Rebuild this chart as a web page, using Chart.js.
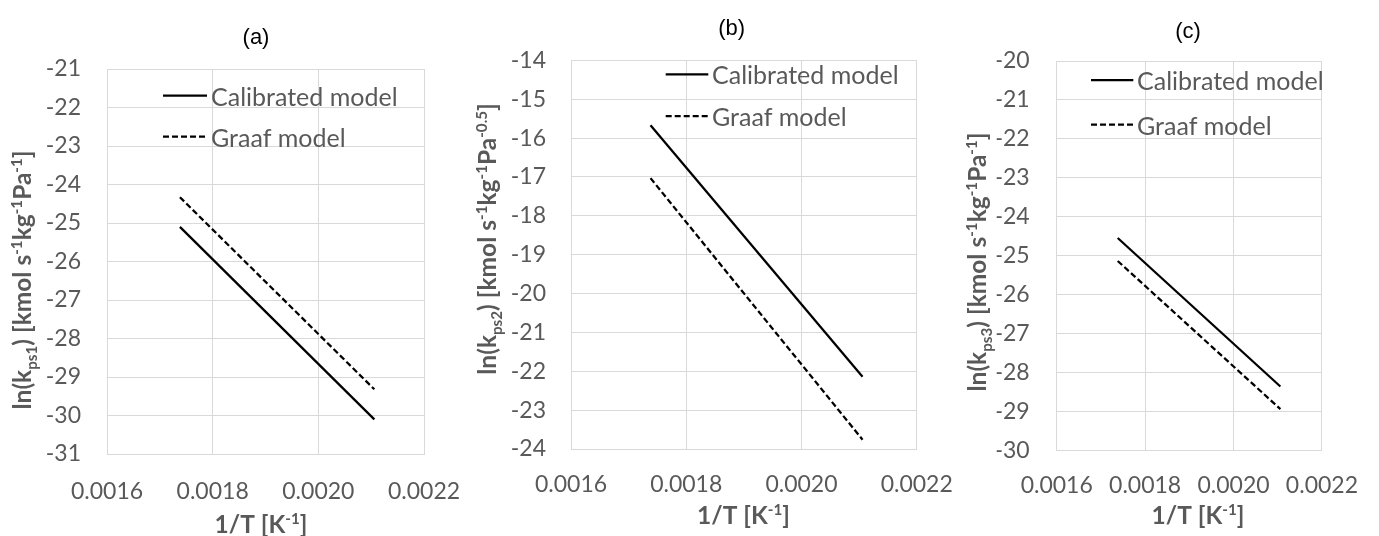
<!DOCTYPE html>
<html><head><meta charset="utf-8">
<script src="https://cdn.jsdelivr.net/npm/chart.js@4.4.1/dist/chart.umd.min.js"></script>
<style>
html,body{margin:0;padding:0;background:#fff;width:1379px;height:536px;overflow:hidden;}
canvas{position:absolute;left:0;top:0;}
</style></head><body>
<canvas id="ca" width="1379" height="536"></canvas>
<canvas id="cb" width="1379" height="536"></canvas>
<canvas id="cc" width="1379" height="536"></canvas>
<script>
// ---------- data ----------
const invT = [0.001738, 0.002106];
const seriesNames = ['Calibrated model', 'Graaf model'];
const calibratedA = [-25.10, -30.10];
const graafA = [-24.33, -29.32];
const calibratedB = [-15.67, -22.14];
const graafB = [-17.03, -23.76];
const calibratedC = [-24.54, -28.35];
const graafC = [-25.13, -28.93];
const xTickValues = [0.0016, 0.0018, 0.0020, 0.0022];
const yRangeA = [-31, -21];
const yRangeB = [-24, -14];
const yRangeC = [-30, -20];
const panelTitles = ['(a)', '(b)', '(c)'];
const xTitleSegs = [{t:'1/T [K'},{t:'-1',sup:true},{t:']'}];
const yTitleA = [{t:'ln(k'},{t:'ps1',sub:true},{t:') [kmol s'},{t:'-1',sup:true},{t:'kg'},{t:'-1',sup:true},{t:'Pa'},{t:'-1',sup:true},{t:']'}];
const yTitleB = [{t:'ln(k'},{t:'ps2',sub:true},{t:') [kmol s'},{t:'-1',sup:true},{t:'kg'},{t:'-1',sup:true},{t:'Pa'},{t:'-0.5',sup:true},{t:']'}];
const yTitleC = [{t:'ln(k'},{t:'ps3',sub:true},{t:') [kmol s'},{t:'-1',sup:true},{t:'kg'},{t:'-1',sup:true},{t:'Pa'},{t:'-1',sup:true},{t:']'}];

// ---------- layout ----------
const W = 1379, H = 536;
const layoutA = {plot:{l:107,r:424,t:69,b:454}, title:{x:256,y:37.5}, yTitle:{x:31,y:280}, xTitle:{x:261,y:533},
  legend:{x1:163,x2:207,tx:211,ys:[95.5,136.5]}, yPad:26, xPad:24};
const layoutB = {plot:{l:571,r:916.7,t:60.4,b:449}, title:{x:731.7,y:29}, yTitle:{x:496,y:239}, xTitle:{x:743.5,y:524},
  legend:{x1:665.7,x2:708.3,tx:712,ys:[74.3,116]}, yPad:25, xPad:22};
const layoutC = {plot:{l:1056.7,r:1338.3,t:61,b:450.8}, title:{x:1188,y:32.4}, yTitle:{x:986,y:262}, xTitle:{x:1198,y:524},
  legend:{x1:1091,x2:1133.3,tx:1137,ys:[80,124.5]}, yPad:27, xPad:21};

const GRID = '#d9d9d9', TXT = '#595959';
const YW = 60, XH = 80;

function drawRich(ctx, segs, cx, baseY, rot, size) {
  const small = size * 0.62;
  const fontFor = s => `bold ${(s.sub || s.sup) ? small : size}px Lato`;
  const widths = segs.map(s => { ctx.font = fontFor(s); return ctx.measureText(s.t).width; });
  const total = widths.reduce((a, b) => a + b, 0);
  ctx.save();
  ctx.translate(cx, baseY);
  ctx.rotate(rot);
  ctx.fillStyle = TXT; ctx.textBaseline = 'alphabetic'; ctx.textAlign = 'left';
  let x = -total / 2;
  segs.forEach((s, i) => {
    ctx.font = fontFor(s);
    const dy = s.sub ? size * 0.24 : (s.sup ? -size * 0.36 : 0);
    ctx.fillText(s.t, x, dy);
    x += widths[i];
  });
  ctx.restore();
}

const annot = {
  id: 'annot',
  afterDraw(chart, args, o) {
    const ctx = chart.ctx, L = o.L;
    ctx.save();
    ctx.font = '22px "Liberation Sans", Arial, sans-serif';
    ctx.fillStyle = '#000'; ctx.textAlign = 'center'; ctx.textBaseline = 'middle';
    ctx.fillText(o.title, L.title.x, L.title.y);
    chart.data.datasets.forEach((ds, i) => {
      const y = L.legend.ys[i];
      ctx.beginPath();
      ctx.setLineDash(ds.borderDash || []);
      ctx.lineWidth = ds.borderWidth; ctx.strokeStyle = ds.borderColor;
      ctx.moveTo(L.legend.x1, y); ctx.lineTo(L.legend.x2, y); ctx.stroke();
      ctx.setLineDash([]);
      ctx.font = '25px Lato'; ctx.fillStyle = TXT; ctx.textAlign = 'left'; ctx.textBaseline = 'alphabetic';
      ctx.fillText(ds.label, L.legend.tx, y + 10);
    });
    drawRich(ctx, xTitleSegs, L.xTitle.x, L.xTitle.y, 0, 24.5);
    drawRich(ctx, o.ySegs, L.yTitle.x, L.yTitle.y, -Math.PI / 2, 24.5);
    ctx.restore();
  }
};

function makeChart(id, cal, graaf, yr, L, ySegs, title) {
  const p = L.plot;
  new Chart(document.getElementById(id), {
    type: 'line',
    data: {
      datasets: [
        {label: seriesNames[0], data: invT.map((x, i) => ({x, y: cal[i]})), borderColor: '#000', borderWidth: 2.25,
         pointRadius: 0, fill: false, tension: 0},
        {label: seriesNames[1], data: invT.map((x, i) => ({x, y: graaf[i]})), borderColor: '#000', borderWidth: 2.25,
         borderDash: [6, 3], pointRadius: 0, fill: false, tension: 0}
      ]
    },
    options: {
      responsive: false, animation: false, devicePixelRatio: 1,
      layout: {padding: {left: p.l - YW, right: W - p.r, top: p.t, bottom: H - p.b - XH}},
      plugins: {legend: {display: false}, tooltip: {enabled: false}, title: {display: false}, annot: {L, ySegs, title}},
      scales: {
        x: {type: 'linear', min: xTickValues[0], max: xTickValues[xTickValues.length - 1],
          afterBuildTicks: s => { s.ticks = xTickValues.map(v => ({value: v})); },
          afterFit: s => { s.height = XH; },
          ticks: {callback: v => Number(v).toFixed(4), color: TXT, font: {family: 'Lato', size: 23}, padding: L.xPad,
            maxRotation: 0, autoSkip: false},
          grid: {color: GRID, lineWidth: 1, drawTicks: false}, border: {color: GRID, width: 1}},
        y: {type: 'linear', min: yr[0], max: yr[1],
          afterFit: s => { s.width = YW; },
          ticks: {stepSize: 1, callback: v => String(v), color: TXT, font: {family: 'Lato', size: 23}, padding: L.yPad},
          grid: {color: GRID, lineWidth: 1, drawTicks: false}, border: {color: GRID, width: 1}}
      }
    },
    plugins: [annot]
  });
}

makeChart('ca', calibratedA, graafA, yRangeA, layoutA, yTitleA, panelTitles[0]);
makeChart('cb', calibratedB, graafB, yRangeB, layoutB, yTitleB, panelTitles[1]);
makeChart('cc', calibratedC, graafC, yRangeC, layoutC, yTitleC, panelTitles[2]);
</script>
</body></html>
